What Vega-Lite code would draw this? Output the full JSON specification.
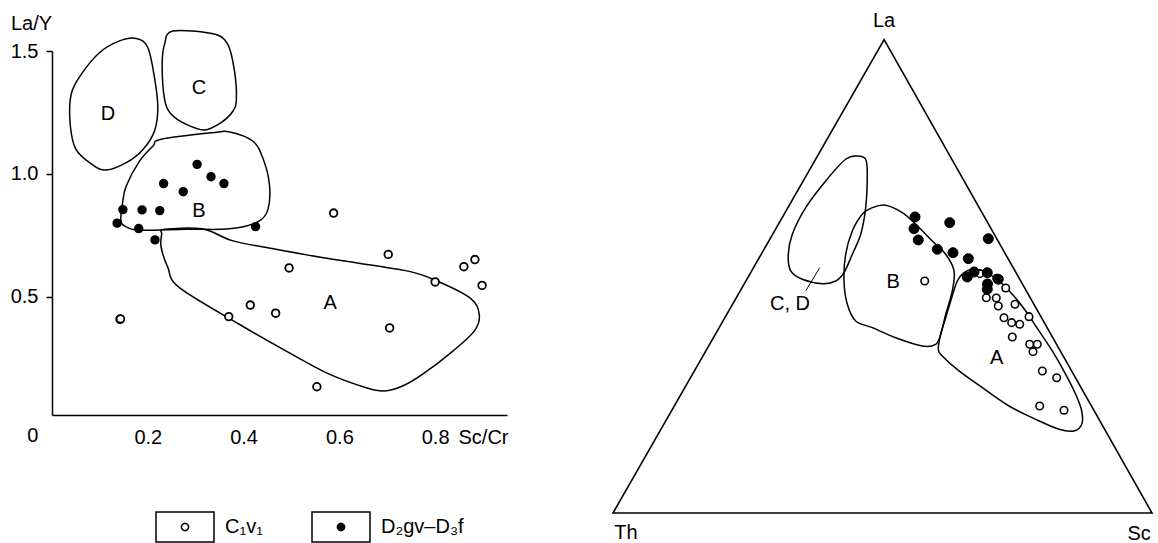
{
  "$schema": "https://vega.github.io/schema/vega-lite/v6.json",
  "background": "white",
  "padding": {"left": 10, "top": 10, "right": 0, "bottom": 0},
  "spacing": 106,
  "bounds": "flush",
  "config": {
    "view": {"stroke": null},
    "font": "Liberation Sans",
    "text": {"font": "Liberation Sans", "fontSize": 20, "color": "black"},
    "legend": {"labelFont": "Liberation Sans"}
  },
  "datasets": {
    "pts1": [
      {"x": 0.588, "y": 0.841, "g": "C₁v₁"},
      {"x": 0.702, "y": 0.673, "g": "C₁v₁"},
      {"x": 0.495, "y": 0.618, "g": "C₁v₁"},
      {"x": 0.860, "y": 0.623, "g": "C₁v₁"},
      {"x": 0.883, "y": 0.652, "g": "C₁v₁"},
      {"x": 0.898, "y": 0.547, "g": "C₁v₁"},
      {"x": 0.800, "y": 0.561, "g": "C₁v₁"},
      {"x": 0.414, "y": 0.467, "g": "C₁v₁"},
      {"x": 0.467, "y": 0.434, "g": "C₁v₁"},
      {"x": 0.369, "y": 0.420, "g": "C₁v₁"},
      {"x": 0.705, "y": 0.374, "g": "C₁v₁"},
      {"x": 0.142, "y": 0.409, "g": "C₁v₁"},
      {"x": 0.143, "y": 0.411, "g": "C₁v₁"},
      {"x": 0.553, "y": 0.135, "g": "C₁v₁"},
      {"x": 0.303, "y": 1.039, "g": "D₂gv–D₃f"},
      {"x": 0.332, "y": 0.989, "g": "D₂gv–D₃f"},
      {"x": 0.359, "y": 0.961, "g": "D₂gv–D₃f"},
      {"x": 0.233, "y": 0.961, "g": "D₂gv–D₃f"},
      {"x": 0.274, "y": 0.928, "g": "D₂gv–D₃f"},
      {"x": 0.148, "y": 0.855, "g": "D₂gv–D₃f"},
      {"x": 0.188, "y": 0.854, "g": "D₂gv–D₃f"},
      {"x": 0.225, "y": 0.851, "g": "D₂gv–D₃f"},
      {"x": 0.136, "y": 0.800, "g": "D₂gv–D₃f"},
      {"x": 0.181, "y": 0.778, "g": "D₂gv–D₃f"},
      {"x": 0.215, "y": 0.732, "g": "D₂gv–D₃f"},
      {"x": 0.425, "y": 0.786, "g": "D₂gv–D₃f"}
    ],
    "fields1": [
      {"f": "D", "i": 0, "x": 0.176, "y": 1.551},
      {"f": "D", "i": 1, "x": 0.200, "y": 1.514},
      {"f": "D", "i": 2, "x": 0.214, "y": 1.392},
      {"f": "D", "i": 3, "x": 0.221, "y": 1.270},
      {"f": "D", "i": 4, "x": 0.214, "y": 1.175},
      {"f": "D", "i": 5, "x": 0.190, "y": 1.100},
      {"f": "D", "i": 6, "x": 0.155, "y": 1.046},
      {"f": "D", "i": 7, "x": 0.113, "y": 1.016},
      {"f": "D", "i": 8, "x": 0.085, "y": 1.037},
      {"f": "D", "i": 9, "x": 0.050, "y": 1.100},
      {"f": "D", "i": 10, "x": 0.038, "y": 1.202},
      {"f": "D", "i": 11, "x": 0.040, "y": 1.324},
      {"f": "D", "i": 12, "x": 0.061, "y": 1.405},
      {"f": "D", "i": 13, "x": 0.099, "y": 1.493},
      {"f": "D", "i": 14, "x": 0.141, "y": 1.541},
      {"f": "C", "i": 0, "x": 0.252, "y": 1.581},
      {"f": "C", "i": 1, "x": 0.336, "y": 1.570},
      {"f": "C", "i": 2, "x": 0.367, "y": 1.527},
      {"f": "C", "i": 3, "x": 0.381, "y": 1.419},
      {"f": "C", "i": 4, "x": 0.385, "y": 1.304},
      {"f": "C", "i": 5, "x": 0.378, "y": 1.256},
      {"f": "C", "i": 6, "x": 0.353, "y": 1.209},
      {"f": "C", "i": 7, "x": 0.318, "y": 1.179},
      {"f": "C", "i": 8, "x": 0.280, "y": 1.202},
      {"f": "C", "i": 9, "x": 0.249, "y": 1.243},
      {"f": "C", "i": 10, "x": 0.235, "y": 1.304},
      {"f": "C", "i": 11, "x": 0.230, "y": 1.446},
      {"f": "C", "i": 12, "x": 0.235, "y": 1.527},
      {"f": "B", "i": 0, "x": 0.228, "y": 1.141},
      {"f": "B", "i": 1, "x": 0.336, "y": 1.168},
      {"f": "B", "i": 2, "x": 0.371, "y": 1.171},
      {"f": "B", "i": 3, "x": 0.419, "y": 1.134},
      {"f": "B", "i": 4, "x": 0.440, "y": 1.066},
      {"f": "B", "i": 5, "x": 0.454, "y": 0.958},
      {"f": "B", "i": 6, "x": 0.451, "y": 0.856},
      {"f": "B", "i": 7, "x": 0.433, "y": 0.809},
      {"f": "B", "i": 8, "x": 0.391, "y": 0.782},
      {"f": "B", "i": 9, "x": 0.350, "y": 0.775},
      {"f": "B", "i": 10, "x": 0.280, "y": 0.775},
      {"f": "B", "i": 11, "x": 0.183, "y": 0.771},
      {"f": "B", "i": 12, "x": 0.155, "y": 0.785},
      {"f": "B", "i": 13, "x": 0.144, "y": 0.809},
      {"f": "B", "i": 14, "x": 0.147, "y": 0.877},
      {"f": "B", "i": 15, "x": 0.155, "y": 0.951},
      {"f": "B", "i": 16, "x": 0.183, "y": 1.053},
      {"f": "B", "i": 17, "x": 0.211, "y": 1.114},
      {"f": "A", "i": 0, "x": 0.235, "y": 0.775},
      {"f": "A", "i": 1, "x": 0.315, "y": 0.776},
      {"f": "A", "i": 2, "x": 0.378, "y": 0.728},
      {"f": "A", "i": 3, "x": 0.468, "y": 0.694},
      {"f": "A", "i": 4, "x": 0.586, "y": 0.653},
      {"f": "A", "i": 5, "x": 0.736, "y": 0.608},
      {"f": "A", "i": 6, "x": 0.795, "y": 0.572},
      {"f": "A", "i": 7, "x": 0.872, "y": 0.497},
      {"f": "A", "i": 8, "x": 0.892, "y": 0.430},
      {"f": "A", "i": 9, "x": 0.882, "y": 0.362},
      {"f": "A", "i": 10, "x": 0.837, "y": 0.280},
      {"f": "A", "i": 11, "x": 0.774, "y": 0.186},
      {"f": "A", "i": 12, "x": 0.732, "y": 0.138},
      {"f": "A", "i": 13, "x": 0.694, "y": 0.118},
      {"f": "A", "i": 14, "x": 0.656, "y": 0.131},
      {"f": "A", "i": 15, "x": 0.579, "y": 0.186},
      {"f": "A", "i": 16, "x": 0.489, "y": 0.280},
      {"f": "A", "i": 17, "x": 0.391, "y": 0.389},
      {"f": "A", "i": 18, "x": 0.266, "y": 0.538},
      {"f": "A", "i": 19, "x": 0.242, "y": 0.619},
      {"f": "A", "i": 20, "x": 0.228, "y": 0.701},
      {"f": "A", "i": 21, "x": 0.229, "y": 0.755}
    ],
    "labels1": [
      {"x": 0.117, "y": 1.245, "t": "D"},
      {"x": 0.307, "y": 1.351, "t": "C"},
      {"x": 0.307, "y": 0.850, "t": "B"},
      {"x": 0.581, "y": 0.477, "t": "A"},
      {"x": -0.04, "y": -0.065, "t": "0"}
    ],
    "tri": [
      {"i": 0, "x": 0.0, "y": 0.0},
      {"i": 1, "x": 0.503, "y": 0.878},
      {"i": 2, "x": 1.0, "y": 0.0}
    ],
    "fields2": [
      {"f": "A", "i": 0, "x": 0.6666, "y": 0.4521},
      {"f": "A", "i": 1, "x": 0.6915, "y": 0.4458},
      {"f": "A", "i": 2, "x": 0.7161, "y": 0.4304},
      {"f": "A", "i": 3, "x": 0.7408, "y": 0.4058},
      {"f": "A", "i": 4, "x": 0.7657, "y": 0.3748},
      {"f": "A", "i": 5, "x": 0.7904, "y": 0.3377},
      {"f": "A", "i": 6, "x": 0.8150, "y": 0.3006},
      {"f": "A", "i": 7, "x": 0.8399, "y": 0.2573},
      {"f": "A", "i": 8, "x": 0.8584, "y": 0.2202},
      {"f": "A", "i": 9, "x": 0.8696, "y": 0.1892},
      {"f": "A", "i": 10, "x": 0.8696, "y": 0.1646},
      {"f": "A", "i": 11, "x": 0.8553, "y": 0.1521},
      {"f": "A", "i": 12, "x": 0.8275, "y": 0.1553},
      {"f": "A", "i": 13, "x": 0.7842, "y": 0.1738},
      {"f": "A", "i": 14, "x": 0.7347, "y": 0.1985},
      {"f": "A", "i": 15, "x": 0.6852, "y": 0.2325},
      {"f": "A", "i": 16, "x": 0.6419, "y": 0.2635},
      {"f": "A", "i": 17, "x": 0.6109, "y": 0.2913},
      {"f": "A", "i": 18, "x": 0.6035, "y": 0.3037},
      {"f": "A", "i": 19, "x": 0.6080, "y": 0.3315},
      {"f": "A", "i": 20, "x": 0.6173, "y": 0.3623},
      {"f": "A", "i": 21, "x": 0.6284, "y": 0.3994},
      {"f": "A", "i": 22, "x": 0.6388, "y": 0.4304},
      {"f": "A", "i": 23, "x": 0.6512, "y": 0.4458},
      {"f": "B", "i": 0, "x": 0.4811, "y": 0.5664},
      {"f": "B", "i": 1, "x": 0.5059, "y": 0.5709},
      {"f": "B", "i": 2, "x": 0.5367, "y": 0.5571},
      {"f": "B", "i": 3, "x": 0.5616, "y": 0.5356},
      {"f": "B", "i": 4, "x": 0.5924, "y": 0.5046},
      {"f": "B", "i": 5, "x": 0.6173, "y": 0.4800},
      {"f": "B", "i": 6, "x": 0.6327, "y": 0.4490},
      {"f": "B", "i": 7, "x": 0.6295, "y": 0.4119},
      {"f": "B", "i": 8, "x": 0.6173, "y": 0.3686},
      {"f": "B", "i": 9, "x": 0.6080, "y": 0.3315},
      {"f": "B", "i": 10, "x": 0.5987, "y": 0.3130},
      {"f": "B", "i": 11, "x": 0.5738, "y": 0.3098},
      {"f": "B", "i": 12, "x": 0.5245, "y": 0.3252},
      {"f": "B", "i": 13, "x": 0.4811, "y": 0.3438},
      {"f": "B", "i": 14, "x": 0.4503, "y": 0.3562},
      {"f": "B", "i": 15, "x": 0.4347, "y": 0.3872},
      {"f": "B", "i": 16, "x": 0.4286, "y": 0.4304},
      {"f": "B", "i": 17, "x": 0.4317, "y": 0.4800},
      {"f": "B", "i": 18, "x": 0.4440, "y": 0.5232},
      {"f": "B", "i": 19, "x": 0.4625, "y": 0.5542},
      {"f": "CD", "i": 0, "x": 0.4533, "y": 0.6623},
      {"f": "CD", "i": 1, "x": 0.4688, "y": 0.6562},
      {"f": "CD", "i": 2, "x": 0.4718, "y": 0.6284},
      {"f": "CD", "i": 3, "x": 0.4688, "y": 0.5664},
      {"f": "CD", "i": 4, "x": 0.4596, "y": 0.5171},
      {"f": "CD", "i": 5, "x": 0.4440, "y": 0.4800},
      {"f": "CD", "i": 6, "x": 0.4286, "y": 0.4458},
      {"f": "CD", "i": 7, "x": 0.4132, "y": 0.4304},
      {"f": "CD", "i": 8, "x": 0.3883, "y": 0.4254},
      {"f": "CD", "i": 9, "x": 0.3512, "y": 0.4336},
      {"f": "CD", "i": 10, "x": 0.3297, "y": 0.4490},
      {"f": "CD", "i": 11, "x": 0.3252, "y": 0.4800},
      {"f": "CD", "i": 12, "x": 0.3327, "y": 0.5171},
      {"f": "CD", "i": 13, "x": 0.3575, "y": 0.5664},
      {"f": "CD", "i": 14, "x": 0.3946, "y": 0.6160},
      {"f": "CD", "i": 15, "x": 0.4317, "y": 0.6562}
    ],
    "leader": [
      {"x": 0.3835, "y": 0.4551, "x2": 0.3575, "y2": 0.4119}
    ],
    "pts2": [
      {"x": 0.5783, "y": 0.4304, "g": "C₁v₁"},
      {"x": 0.6809, "y": 0.4440, "g": "C₁v₁"},
      {"x": 0.7119, "y": 0.4354, "g": "C₁v₁"},
      {"x": 0.7286, "y": 0.4174, "g": "C₁v₁"},
      {"x": 0.6926, "y": 0.3994, "g": "C₁v₁"},
      {"x": 0.7111, "y": 0.3989, "g": "C₁v₁"},
      {"x": 0.7148, "y": 0.3840, "g": "C₁v₁"},
      {"x": 0.7458, "y": 0.3872, "g": "C₁v₁"},
      {"x": 0.7254, "y": 0.3623, "g": "C₁v₁"},
      {"x": 0.7397, "y": 0.3531, "g": "C₁v₁"},
      {"x": 0.7546, "y": 0.3501, "g": "C₁v₁"},
      {"x": 0.7718, "y": 0.3642, "g": "C₁v₁"},
      {"x": 0.7408, "y": 0.3265, "g": "C₁v₁"},
      {"x": 0.7731, "y": 0.3130, "g": "C₁v₁"},
      {"x": 0.7872, "y": 0.3130, "g": "C₁v₁"},
      {"x": 0.7792, "y": 0.2993, "g": "C₁v₁"},
      {"x": 0.7965, "y": 0.2635, "g": "C₁v₁"},
      {"x": 0.8232, "y": 0.2510, "g": "C₁v₁"},
      {"x": 0.7916, "y": 0.1985, "g": "C₁v₁"},
      {"x": 0.8367, "y": 0.1905, "g": "C₁v₁"},
      {"x": 0.5603, "y": 0.5492, "g": "D₂gv–D₃f"},
      {"x": 0.5584, "y": 0.5275, "g": "D₂gv–D₃f"},
      {"x": 0.5664, "y": 0.5065, "g": "D₂gv–D₃f"},
      {"x": 0.6247, "y": 0.5386, "g": "D₂gv–D₃f"},
      {"x": 0.6017, "y": 0.4892, "g": "D₂gv–D₃f"},
      {"x": 0.6308, "y": 0.4829, "g": "D₂gv–D₃f"},
      {"x": 0.6592, "y": 0.4718, "g": "D₂gv–D₃f"},
      {"x": 0.6963, "y": 0.5089, "g": "D₂gv–D₃f"},
      {"x": 0.6573, "y": 0.4378, "g": "D₂gv–D₃f"},
      {"x": 0.6698, "y": 0.4471, "g": "D₂gv–D₃f"},
      {"x": 0.6944, "y": 0.4458, "g": "D₂gv–D₃f"},
      {"x": 0.7148, "y": 0.4336, "g": "D₂gv–D₃f"},
      {"x": 0.6944, "y": 0.4150, "g": "D₂gv–D₃f"},
      {"x": 0.6948, "y": 0.4249, "g": "D₂gv–D₃f"}
    ],
    "labels2": [
      {"x": 0.503, "y": 0.9128, "t": "La"},
      {"x": 0.024, "y": -0.038, "t": "Th"},
      {"x": 0.976, "y": -0.039, "t": "Sc"},
      {"x": 0.520, "y": 0.4286, "t": "B"},
      {"x": 0.7118, "y": 0.2870, "t": "A"},
      {"x": 0.3284, "y": 0.3878, "t": "C, D"}
    ]
  },
  "hconcat": [
    {
      "width": 455,
      "height": 364,
      "layer": [
        {
          "data": {"name": "fields1"},
          "mark": {"type": "line", "interpolate": "cardinal-closed", "stroke": "black", "strokeWidth": 1.5},
          "encoding": {
            "x": {
              "field": "x", "type": "quantitative",
              "scale": {"domain": [0, 0.95], "nice": false, "zero": false},
              "axis": {
                "values": [0.2, 0.4, 0.6, 0.8], "format": ".1f", "ticks": false, "tickSize": 0,
                "labelPadding": 12, "labelFontSize": 20, "labelColor": "black", "labelFont": "Liberation Sans",
                "labelFlush": false, "grid": false,
                "domainColor": "black", "domainWidth": 1.5,
                "title": "Sc/Cr", "titleX": 456, "titleY": 22, "titleAlign": "right", "titleBaseline": "middle",
                "titleFontSize": 20, "titleFontWeight": "normal", "titleColor": "black", "titleFont": "Liberation Sans"
              }
            },
            "y": {
              "field": "y", "type": "quantitative",
              "scale": {"domain": [0.02, 1.5], "nice": false, "zero": false},
              "axis": {
                "values": [0.5, 1.0, 1.5], "format": ".1f", "tickSize": 6, "tickWidth": 1.5, "tickColor": "black",
                "labelPadding": 8, "labelFontSize": 20, "labelColor": "black", "labelFont": "Liberation Sans",
                "labelFlush": false, "grid": false,
                "domainColor": "black", "domainWidth": 1.5,
                "title": "La/Y", "titleAngle": 0, "titleX": -21, "titleY": -28, "titleAlign": "center", "titleBaseline": "middle",
                "titleFontSize": 20, "titleFontWeight": "normal", "titleColor": "black", "titleFont": "Liberation Sans"
              }
            },
            "detail": {"field": "f"},
            "order": {"field": "i", "type": "quantitative"}
          }
        },
        {
          "data": {"name": "pts1"},
          "mark": {"type": "point", "shape": "circle", "filled": true, "stroke": "black", "strokeWidth": 1.8, "size": 58, "opacity": 1},
          "encoding": {
            "x": {"field": "x", "type": "quantitative", "scale": {"domain": [0, 0.95], "nice": false, "zero": false}},
            "y": {"field": "y", "type": "quantitative", "scale": {"domain": [0.02, 1.5], "nice": false, "zero": false}},
            "fill": {
              "field": "g", "type": "nominal",
              "scale": {"domain": ["C₁v₁", "D₂gv–D₃f"], "range": ["white", "black"]},
              "legend": {
                "title": null, "orient": "none", "direction": "horizontal",
                "legendX": 103, "legendY": 446, "padding": 0,
                "symbolType": "M-1,-0.517L1,-0.517L1,0.517L-1,0.517ZM-1,-0.517L-1,0.517L1,0.517L1,-0.517ZM0.125,0L0.1155,0.0478L0.0884,0.0884L0.0478,0.1155L0,0.125L-0.0478,0.1155L-0.0884,0.0884L-0.1155,0.0478L-0.125,0L-0.1155,-0.0478L-0.0884,-0.0884L-0.0478,-0.1155L0,-0.125L0.0478,-0.1155L0.0884,-0.0884L0.1155,-0.0478Z",
                "symbolSize": 3364, "symbolStrokeWidth": 1.5, "symbolStrokeColor": "black", "symbolOpacity": 1,
                "labelOffset": 10, "columnPadding": 46,
                "labelFontSize": 20, "labelColor": "black", "labelFont": "Liberation Sans"
              }
            }
          }
        },
        {
          "data": {"name": "labels1"},
          "mark": {"type": "text", "fontSize": 20, "font": "Liberation Sans", "align": "center", "baseline": "middle", "color": "black"},
          "encoding": {
            "x": {"field": "x", "type": "quantitative", "scale": {"domain": [0, 0.95], "nice": false, "zero": false}},
            "y": {"field": "y", "type": "quantitative", "scale": {"domain": [0.02, 1.5], "nice": false, "zero": false}},
            "text": {"field": "t"}
          }
        }
      ]
    },
    {
      "width": 539,
      "height": 462,
      "layer": [
        {
          "data": {"name": "fields2"},
          "mark": {"type": "line", "interpolate": "cardinal-closed", "stroke": "black", "strokeWidth": 1.5},
          "encoding": {
            "x": {"field": "x", "type": "quantitative", "scale": {"domain": [0, 1], "nice": false, "zero": false}, "axis": null},
            "y": {"field": "y", "type": "quantitative", "scale": {"domain": [0, 0.857], "nice": false, "zero": false}, "axis": null},
            "detail": {"field": "f"},
            "order": {"field": "i", "type": "quantitative"}
          }
        },
        {
          "data": {"name": "tri"},
          "mark": {"type": "line", "interpolate": "linear-closed", "stroke": "black", "strokeWidth": 1.6},
          "encoding": {
            "x": {"field": "x", "type": "quantitative", "scale": {"domain": [0, 1], "nice": false, "zero": false}, "axis": null},
            "y": {"field": "y", "type": "quantitative", "scale": {"domain": [0, 0.857], "nice": false, "zero": false}, "axis": null},
            "order": {"field": "i", "type": "quantitative"}
          }
        },
        {
          "data": {"name": "leader"},
          "mark": {"type": "rule", "stroke": "black", "strokeWidth": 1},
          "encoding": {
            "x": {"field": "x", "type": "quantitative", "scale": {"domain": [0, 1], "nice": false, "zero": false}, "axis": null},
            "y": {"field": "y", "type": "quantitative", "scale": {"domain": [0, 0.857], "nice": false, "zero": false}, "axis": null},
            "x2": {"field": "x2"},
            "y2": {"field": "y2"}
          }
        },
        {
          "data": {"name": "pts2"},
          "transform": [{"filter": "datum.g === 'C₁v₁'"}],
          "mark": {"type": "point", "shape": "circle", "filled": true, "fill": "white", "stroke": "black", "strokeWidth": 1.6, "size": 56, "opacity": 1},
          "encoding": {
            "x": {"field": "x", "type": "quantitative", "scale": {"domain": [0, 1], "nice": false, "zero": false}, "axis": null},
            "y": {"field": "y", "type": "quantitative", "scale": {"domain": [0, 0.857], "nice": false, "zero": false}, "axis": null}
          }
        },
        {
          "data": {"name": "pts2"},
          "transform": [{"filter": "datum.g !== 'C₁v₁'"}],
          "mark": {"type": "point", "shape": "circle", "filled": true, "fill": "black", "stroke": "black", "strokeWidth": 1, "size": 100, "opacity": 1},
          "encoding": {
            "x": {"field": "x", "type": "quantitative", "scale": {"domain": [0, 1], "nice": false, "zero": false}, "axis": null},
            "y": {"field": "y", "type": "quantitative", "scale": {"domain": [0, 0.857], "nice": false, "zero": false}, "axis": null}
          }
        },
        {
          "data": {"name": "labels2"},
          "mark": {"type": "text", "fontSize": 20, "font": "Liberation Sans", "align": "center", "baseline": "middle", "color": "black"},
          "encoding": {
            "x": {"field": "x", "type": "quantitative", "scale": {"domain": [0, 1], "nice": false, "zero": false}, "axis": null},
            "y": {"field": "y", "type": "quantitative", "scale": {"domain": [0, 0.857], "nice": false, "zero": false}, "axis": null},
            "text": {"field": "t"}
          }
        }
      ]
    }
  ]
}
